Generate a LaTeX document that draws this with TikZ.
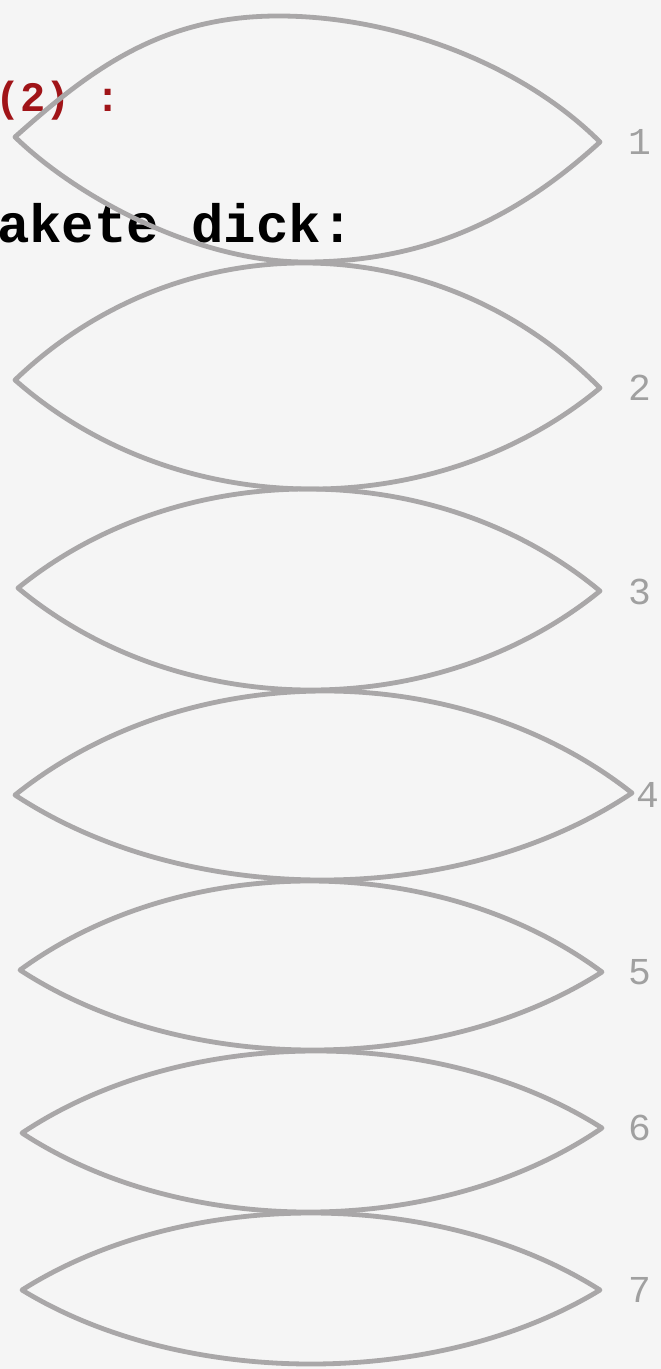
\documentclass[tikz,border=0pt]{standalone}
\usepackage{fontspec}
\setmonofont{Liberation Mono}
\definecolor{bgc}{HTML}{F5F5F5}
\definecolor{lensc}{HTML}{A9A7A8}
\definecolor{numc}{HTML}{A0A0A0}
\definecolor{redc}{HTML}{A01418}
\tikzset{
  lensline/.style={draw=lensc, line width=4.8pt, line join=round, line cap=round},
  numlabel/.style={font=\ttfamily\fontsize{38}{40}\selectfont, text=numc, anchor=west, inner sep=0pt},
  titletext/.style={font=\ttfamily\bfseries, anchor=base west, inner sep=0pt}
}
\newcommand\lensdraw[6]{%
  \pgfmathsetmacro\ym{(#2+#4)/2}%
  \pgfmathsetmacro\ct{\ym-4/3*(\ym-#5)}%
  \pgfmathsetmacro\cb{\ym+4/3*(#6-\ym)}%
  \pgfmathsetmacro\xa{#1+0.28*(#3-#1)}%
  \pgfmathsetmacro\xb{#1+0.72*(#3-#1)}%
  \draw[lensline] (#1,#2) .. controls (\xa,\ct) and (\xb,\ct) .. (#3,#4)
     .. controls (\xb,\cb) and (\xa,\cb) .. cycle;
}
\begin{document}
\begin{tikzpicture}[x=1pt,y=-1pt]
\fill[bgc] (0,0) rectangle (661,1369);
\useasboundingbox (0,0) rectangle (661,1369);
\node[titletext, text=redc, font=\ttfamily\bfseries\fontsize{42}{46}\selectfont] (t1) at (-5,111) {(2) :};
\node[titletext, text=black, font=\ttfamily\bfseries\fontsize{54}{58}\selectfont] (t2) at (-3,242) {akete dick:};
% lens 1 (flatter top)
\draw[lensline] (15,137) .. controls (90,70) and (160,17) .. (275,16)
   .. controls (390,15) and (520,62) .. (600,142)
   .. controls (520,215) and (430,262) .. (305,262)
   .. controls (200,262) and (80,200) .. cycle;
\lensdraw{15}{380}{600}{388}{263}{489}
\lensdraw{18}{588}{600}{591}{489}{690}
\lensdraw{15}{795}{632}{793}{691}{880}
\lensdraw{20}{970}{602}{972}{881}{1050}
\lensdraw{22}{1133}{602}{1128}{1051}{1212}
\lensdraw{22}{1290}{600}{1290}{1213}{1364}
\node[numlabel] (n1) at (628,142) {1};
\node[numlabel] (n2) at (628,388) {2};
\node[numlabel] (n3) at (628,592) {3};
\node[numlabel] (n4) at (636,795) {4};
\node[numlabel] (n5) at (628,972) {5};
\node[numlabel] (n6) at (628,1128) {6};
\node[numlabel] (n7) at (628,1290) {7};
\end{tikzpicture}
\end{document}
